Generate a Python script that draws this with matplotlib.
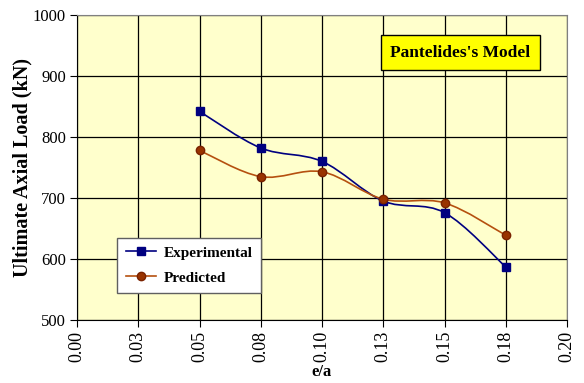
import numpy as np
import matplotlib.pyplot as plt
from matplotlib.path import Path
from matplotlib.patches import PathPatch
from matplotlib.ticker import MultipleLocator, FormatStrFormatter

plt.rcParams['font.family'] = ['Liberation Serif', 'DejaVu Serif']

ecc = [0.05, 0.075, 0.10, 0.125, 0.15, 0.175]
experimental = [842, 782, 760, 695, 676, 587]
predicted = [778, 735, 743, 698, 692, 639]


def smooth_path(x, y):
    # cubic Bezier through the points, Catmull-Rom style tangents
    pts = np.column_stack([x, y]).astype(float)
    n = len(pts)
    verts = [pts[0]]
    codes = [Path.MOVETO]
    for i in range(n - 1):
        p0 = pts[max(i - 1, 0)]
        p1 = pts[i]
        p2 = pts[i + 1]
        p3 = pts[min(i + 2, n - 1)]
        c1 = p1 + (p2 - p0) / 6.0
        c2 = p2 - (p3 - p1) / 6.0
        verts += [c1, c2, p2]
        codes += [Path.CURVE4] * 3
    return Path(verts, codes)


fig = plt.figure(figsize=(5.84, 3.83), dpi=100)
ax = fig.add_axes([77 / 584, 1 - 320 / 383, 490 / 584, 305 / 383])
ax.set_facecolor('#FFFFCC')

series = [
    ('Experimental', experimental, '#000080', 's', '#000080', '#000080'),
    ('Predicted', predicted, '#B5500F', 'o', '#993300', '#7A2200'),
]
for name, vals, lc, mk, mfc, mec in series:
    ax.add_patch(PathPatch(smooth_path(ecc, vals), facecolor='none',
                           edgecolor=lc, lw=1.2, zorder=3))
    ax.plot(ecc, vals, ls='none', marker=mk, ms=6, mfc=mfc, mec=mec,
            zorder=4)
    ax.plot([], [], color=lc, lw=1.2, marker=mk, ms=6, mfc=mfc, mec=mec,
            label=name)

ax.set_xlim(0, 0.20)
ax.set_ylim(500, 1000)
ax.xaxis.set_major_locator(MultipleLocator(0.025))
ax.xaxis.set_major_formatter(FormatStrFormatter('%.2f'))
ax.yaxis.set_major_locator(MultipleLocator(100))
ax.grid(True, color='black', lw=0.9)
ax.set_axisbelow(True)
for s in ax.spines.values():
    s.set_color('#808080')
ax.spines['left'].set_color('black')
ax.spines['bottom'].set_color('black')

ax.tick_params(axis='x', labelrotation=90, labelsize=13, direction='out',
               length=5, pad=3)
ax.tick_params(axis='y', labelsize=12, direction='out', length=5, pad=3)
ax.set_xlabel('e/a', fontsize=12, fontweight='bold', labelpad=1)
ax.set_ylabel('Ultimate Axial Load (kN)', fontsize=14.5, fontweight='bold',
              labelpad=0)

ax.text(0.782, 0.876, "Pantelides's Model", transform=ax.transAxes,
        ha='center', va='center', fontsize=12.5, fontweight='bold',
        bbox=dict(boxstyle='square,pad=0.55', facecolor='#FFFF00',
                  edgecolor='black', lw=1))

leg = ax.legend(loc='lower left', bbox_to_anchor=(0.082, 0.088),
                borderaxespad=0, fancybox=False, framealpha=1,
                edgecolor='#606060', prop={'weight': 'bold', 'size': 11},
                handlelength=2.0, borderpad=0.55, labelspacing=0.75,
                handletextpad=0.5)
leg.get_frame().set_linewidth(1)

fig.savefig('out.png', dpi=100, facecolor='white')
